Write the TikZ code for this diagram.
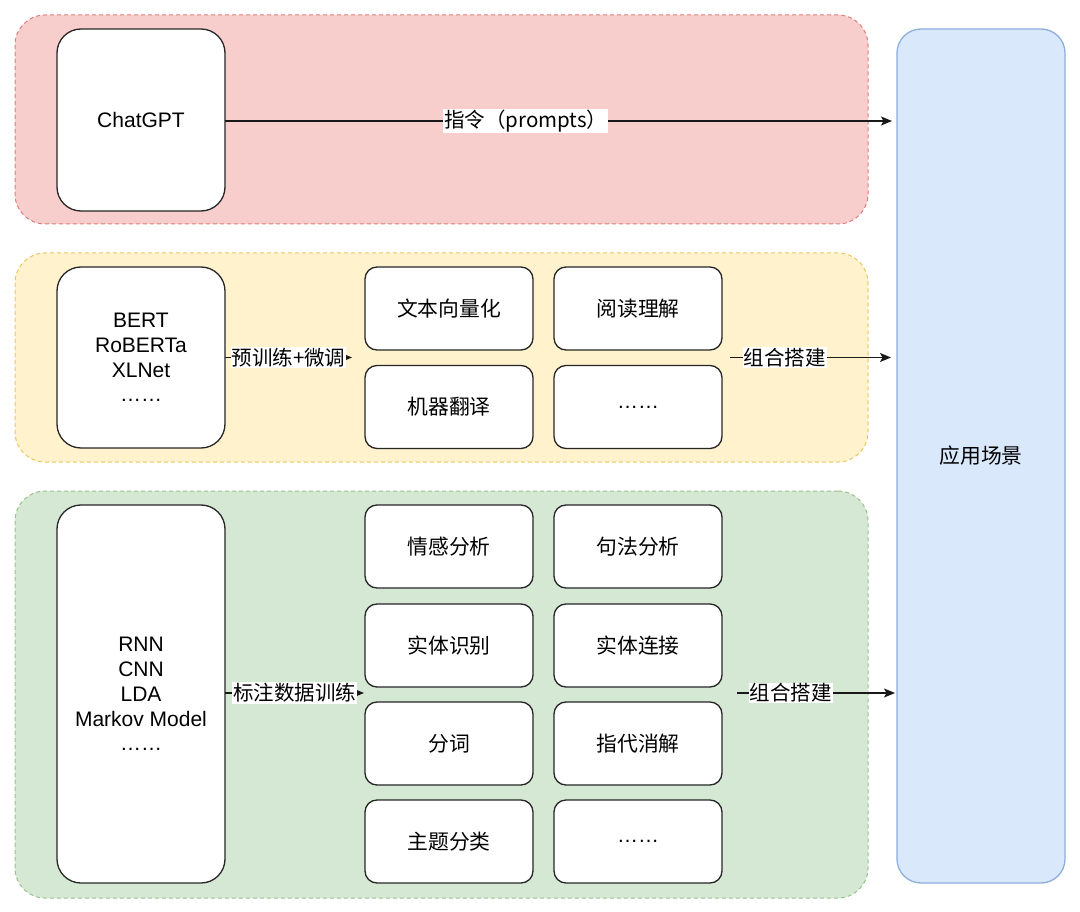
\documentclass[tikz,border=0pt]{standalone}
\usepackage{fontspec}
\setmainfont{Liberation Sans}
\newfontfamily\cjk{Noto Sans CJK SC}
\usetikzlibrary{arrows.meta}
\definecolor{redf}{HTML}{F8CECC}\definecolor{redd}{HTML}{E07B7B}
\definecolor{yelf}{HTML}{FFF2CC}\definecolor{yeld}{HTML}{E8C75E}
\definecolor{grnf}{HTML}{D5E8D4}\definecolor{grnd}{HTML}{97C28A}
\definecolor{bluf}{HTML}{DAE8FC}\definecolor{blud}{HTML}{8EAEDC}
\tikzset{
  cont/.style={draw, dashed, dash pattern=on 4pt off 3pt, line width=1pt, rounded corners=30pt, minimum width=853pt, inner sep=0pt, outer sep=0pt},
  bigbox/.style={draw=black!85, fill=white, line width=1.3pt, rounded corners=24pt, minimum width=168pt, inner sep=0pt, outer sep=0pt, align=center, font=\fontsize{21}{24.8}\selectfont},
  smallbox/.style={draw=black!85, fill=white, line width=1.3pt, rounded corners=12pt, minimum width=168pt, minimum height=83pt, inner sep=0pt, outer sep=0pt, font=\cjk\fontsize{20.8}{24}\selectfont},
  lbl/.style={fill=white, inner sep=1pt, font=\cjk\fontsize{20.5}{24}\selectfont},
  arr/.style={line width=1.3pt, draw=black!90, -{Stealth[length=11pt,width=9pt,inset=2.5pt]}}
}
\begin{document}
\begin{tikzpicture}[x=1pt,y=-1pt]
\useasboundingbox (0,0) rectangle (1080,912);
% containers
\node[cont, fill=redf, draw=redd, minimum height=209pt] (rc) at (441.5,119.5) {};
\node[cont, fill=yelf, draw=yeld, minimum height=209pt] (yc) at (441.5,357.5) {};
\node[cont, fill=grnf, draw=grnd, minimum height=407pt] (gc) at (441.5,694.5) {};
% application
\node[draw=blud, fill=bluf, line width=1.3pt, rounded corners=24pt, minimum width=168pt, minimum height=854pt, inner sep=0pt, font=\cjk\fontsize{20.8}{24}\selectfont] (app) at (981,456) {应用场景};
% left models
\node[bigbox, minimum height=182pt] (chat) at (141,120) {ChatGPT};
\node[bigbox, minimum height=181pt] (bert) at (141,357.5) {BERT\\RoBERTa\\XLNet\\\char"2026\char"2026};
\node[bigbox, minimum height=378pt] (rnn) at (141,694) {RNN\\CNN\\LDA\\Markov Model\\\char"2026\char"2026};
% yellow tasks
\node[smallbox] (t1) at (449,308.5) {文本向量化};
\node[smallbox] (t2) at (638,308.5) {阅读理解};
\node[smallbox] (t3) at (449,407) {机器翻译};
\node[smallbox, font=\fontsize{21}{24}\selectfont] (t4) at (638,407) {\char"2026\char"2026};
% green tasks
\node[smallbox] (g1) at (449,546.5) {情感分析};
\node[smallbox] (g2) at (638,546.5) {句法分析};
\node[smallbox] (g3) at (449,645.5) {实体识别};
\node[smallbox] (g4) at (638,645.5) {实体连接};
\node[smallbox] (g5) at (449,743.5) {分词};
\node[smallbox] (g6) at (638,743.5) {指代消解};
\node[smallbox] (g7) at (449,841.5) {主题分类};
\node[smallbox, font=\fontsize{21}{24}\selectfont] (g8) at (638,841.5) {\char"2026\char"2026};
% coordinates
\coordinate (e1) at (892,121);
\coordinate (e2) at (352,357.5);
\coordinate (s3) at (730,357.5);
\coordinate (e3) at (891,357.5);
\coordinate (e4) at (364,693);
\coordinate (s5) at (737,693);
\coordinate (e5) at (895,693);
% arrows
\draw[arr] (chat.east |- e1) -- node[lbl, pos=0.451] (l1) {指令（prompts）} (e1);
\draw[arr] (bert.east) -- node[lbl, pos=0.5] (l2) {预训练+微调} (e2);
\draw[arr] (s3) -- node[lbl, pos=0.34] (l3) {组合搭建} (e3);
\draw[arr] (rnn.east |- e4) -- node[lbl, pos=0.5] (l4) {标注数据训练} (e4);
\draw[arr] (s5) -- node[lbl, pos=0.34] (l5) {组合搭建} (e5);
\end{tikzpicture}
\end{document}
